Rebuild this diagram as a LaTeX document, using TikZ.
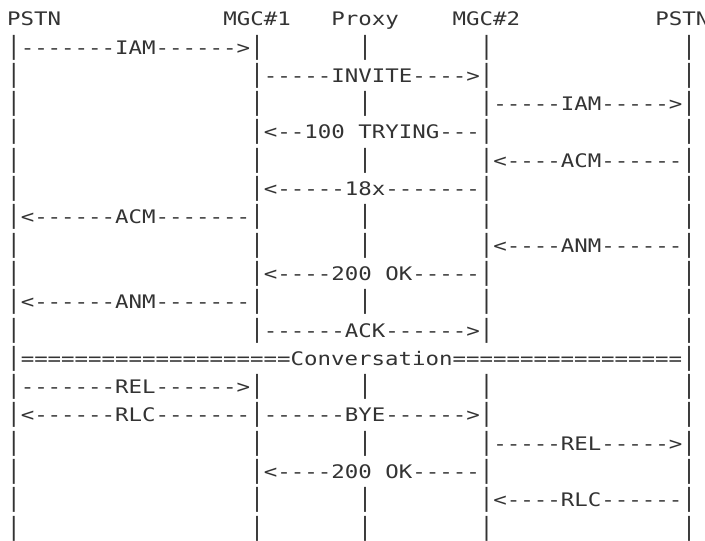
\documentclass[tikz,border=0pt]{standalone}
\usepackage{fontspec}
\usepackage{graphicx}
\setmonofont{DejaVu Sans Mono}[FakeStretch=1.2013]
\definecolor{ink}{HTML}{333333}
\ExplSyntaxOn
\NewDocumentCommand\blanks{m}{\hphantom{\prg_replicate:nn{#1}{-}}}
\ExplSyntaxOff
\newcommand\lifebar{\scalebox{1}[1.34]{|}}

\begin{document}
\begin{tikzpicture}[x=0.75pt,y=-0.75pt,font=\ttfamily\fontsize{14}{17}\selectfont,
  row/.style={anchor=base west,inner sep=0pt,outer sep=0pt,text=ink}]
\useasboundingbox (0,0) rectangle (705,540);
\node[row] (hdr) at (7.25,25.7) {PSTN\blanks{12}MGC\#1\blanks{3}Proxy\blanks{4}MGC\#2\blanks{10}PSTN};
\node[row] (r1) at (7.25,54.0) {\lifebar-------IAM------>\lifebar\blanks{7}\lifebar\blanks{8}\lifebar\blanks{14}\lifebar};
\node[row] (r2) at (7.25,82.3) {\lifebar\blanks{17}\lifebar-----INVITE---->\lifebar\blanks{14}\lifebar};
\node[row] (r3) at (7.25,110.6) {\lifebar\blanks{17}\lifebar\blanks{7}\lifebar\blanks{8}\lifebar-----IAM----->\lifebar};
\node[row] (r4) at (7.25,138.9) {\lifebar\blanks{17}\lifebar<--100\blanks{1}TRYING---\lifebar\blanks{14}\lifebar};
\node[row] (r5) at (7.25,167.2) {\lifebar\blanks{17}\lifebar\blanks{7}\lifebar\blanks{8}\lifebar<----ACM------\lifebar};
\node[row] (r6) at (7.25,195.5) {\lifebar\blanks{17}\lifebar<-----18x-------\lifebar\blanks{14}\lifebar};
\node[row] (r7) at (7.25,223.8) {\lifebar<------ACM-------\lifebar\blanks{7}\lifebar\blanks{8}\lifebar\blanks{14}\lifebar};
\node[row] (r8) at (7.25,252.1) {\lifebar\blanks{17}\lifebar\blanks{7}\lifebar\blanks{8}\lifebar<----ANM------\lifebar};
\node[row] (r9) at (7.25,280.4) {\lifebar\blanks{17}\lifebar<----200\blanks{1}OK-----\lifebar\blanks{14}\lifebar};
\node[row] (r10) at (7.25,308.7) {\lifebar<------ANM-------\lifebar\blanks{7}\lifebar\blanks{8}\lifebar\blanks{14}\lifebar};
\node[row] (r11) at (7.25,337.0) {\lifebar\blanks{17}\lifebar------ACK------>\lifebar\blanks{14}\lifebar};
\node[row] (r12) at (7.25,365.3) {\lifebar====================Conversation=================\lifebar};
\node[row] (r13) at (7.25,393.6) {\lifebar-------REL------>\lifebar\blanks{7}\lifebar\blanks{8}\lifebar\blanks{14}\lifebar};
\node[row] (r14) at (7.25,421.9) {\lifebar<------RLC-------\lifebar------BYE------>\lifebar\blanks{14}\lifebar};
\node[row] (r15) at (7.25,450.2) {\lifebar\blanks{17}\lifebar\blanks{7}\lifebar\blanks{8}\lifebar-----REL----->\lifebar};
\node[row] (r16) at (7.25,478.5) {\lifebar\blanks{17}\lifebar<----200\blanks{1}OK-----\lifebar\blanks{14}\lifebar};
\node[row] (r17) at (7.25,506.8) {\lifebar\blanks{17}\lifebar\blanks{7}\lifebar\blanks{8}\lifebar<----RLC------\lifebar};
\node[row] (r18) at (7.25,535.1) {\lifebar\blanks{17}\lifebar\blanks{7}\lifebar\blanks{8}\lifebar\blanks{14}\lifebar};
\end{tikzpicture}
\end{document}
